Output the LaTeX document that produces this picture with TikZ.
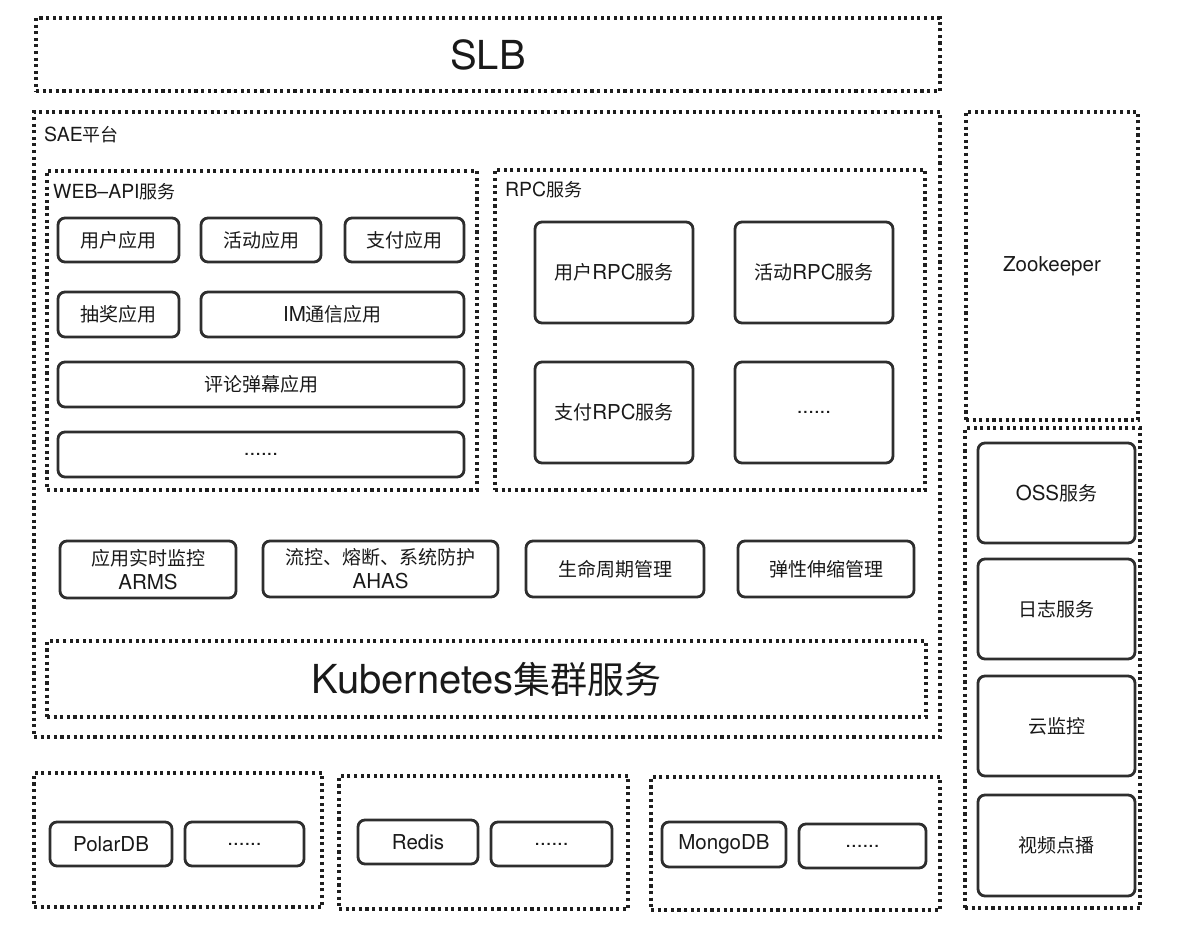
\documentclass[tikz,border=0pt]{standalone}
\usepackage{fontspec}
\setmainfont{TeX Gyre Heros}[Scale=1.08]
\newfontfamily\cjkf{Noto Sans CJK SC}
\newcommand{\zhs}[1]{{\cjkf #1}}
\begin{document}
\begin{tikzpicture}[x=1pt,y=-1pt,
  dotbox/.style={draw=black!88, line width=3.1pt, dash pattern=on 3.1pt off 3.5pt, rectangle, inner sep=0pt, outer sep=0pt},
  app/.style={draw=black!82, line width=2.8pt, rounded corners=7pt, rectangle, inner sep=0pt, outer sep=0pt, align=center, text=black!90, font=\fontsize{19}{22}\selectfont},
  lbl/.style={anchor=west, inner sep=0pt, text=black!90, font=\fontsize{18}{20}\selectfont},
  big/.style={text=black!90, font=\fontsize{37}{40}\selectfont}
]
\useasboundingbox (0,0) rectangle (1194,936);
% SLB
\node[dotbox, minimum width=904pt, minimum height=73pt] (slb) at (488,54.5) {};
\node[big] (slbt) at (slb.center) {SLB};
% SAE
\node[dotbox, minimum width=906pt, minimum height=625pt] (sae) at (487,424.5) {};
\node[lbl] (saet) at (44,135) {SAE\zhs{平台}};
% WEB-API
\node[dotbox, minimum width=430pt, minimum height=319pt] (web) at (262,330.5) {};
\node[lbl] (webt) at (53,192) {WEB--API\zhs{服务}};
\node[app, minimum width=121pt, minimum height=44pt] (a1) at (118.5,240) {\zhs{用户应用}};
\node[app, minimum width=120pt, minimum height=44pt] (a2) at (261,240) {\zhs{活动应用}};
\node[app, minimum width=119pt, minimum height=44pt] (a3) at (404.5,240) {\zhs{支付应用}};
\node[app, minimum width=121pt, minimum height=45pt] (a4) at (118.5,314.5) {\zhs{抽奖应用}};
\node[app, minimum width=263pt, minimum height=45pt] (a5) at (332.5,314.5) {IM\zhs{通信应用}};
\node[app, minimum width=406pt, minimum height=45pt] (a6) at (261,384.5) {\zhs{评论弹幕应用}};
\node[app, minimum width=406pt, minimum height=45pt] (a7) at (261,454.5) {......};
% RPC
\node[dotbox, minimum width=430pt, minimum height=320pt] (rpc) at (710,330) {};
\node[lbl] (rpct) at (505,190) {RPC\zhs{服务}};
\node[app, minimum width=158pt, minimum height=101pt] (r1) at (614,272.5) {\zhs{用户}RPC\zhs{服务}};
\node[app, minimum width=158pt, minimum height=101pt] (r2) at (814,272.5) {\zhs{活动}RPC\zhs{服务}};
\node[app, minimum width=158pt, minimum height=101pt] (r3) at (614,412.5) {\zhs{支付}RPC\zhs{服务}};
\node[app, minimum width=158pt, minimum height=101pt] (r4) at (814,412.5) {......};
% middle row
\node[app, minimum width=176pt, minimum height=57pt, font=\fontsize{19}{24}\selectfont] (m1) at (148,569.5) {\zhs{应用实时监控}\\ARMS};
\node[app, minimum width=235pt, minimum height=56pt, font=\fontsize{19}{24}\selectfont] (m2) at (380.5,569) {\zhs{流控、熔断、系统防护}\\AHAS};
\node[app, minimum width=178pt, minimum height=56pt] (m3) at (615,569) {\zhs{生命周期管理}};
\node[app, minimum width=176pt, minimum height=56pt] (m4) at (826,569) {\zhs{弹性伸缩管理}};
% Kubernetes
\node[dotbox, minimum width=879pt, minimum height=76pt] (k8s) at (486.5,679) {};
\node[big] (k8st) at (k8s.center) {Kubernetes\zhs{集群服务}};
% Zookeeper
\node[dotbox, minimum width=172pt, minimum height=308pt] (zk) at (1052,266) {};
\node[inner sep=0pt, text=black!90, font=\fontsize{19}{20}\selectfont] (zkt) at (zk.center) {Zookeeper};
% right group
\node[dotbox, minimum width=175pt, minimum height=480pt] (rg) at (1052.5,668) {};
\node[app, minimum width=157pt, minimum height=100pt] (s1) at (1056.5,493) {OSS\zhs{服务}};
\node[app, minimum width=157pt, minimum height=100pt] (s2) at (1056.5,609) {\zhs{日志服务}};
\node[app, minimum width=157pt, minimum height=100pt] (s3) at (1056.5,726) {\zhs{云监控}};
\node[app, minimum width=157pt, minimum height=101pt] (s4) at (1056.5,845.5) {\zhs{视频点播}};
% DB groups
\node[dotbox, minimum width=288pt, minimum height=134pt] (d1) at (178,840) {};
\node[app, minimum width=122pt, minimum height=44pt] (p1) at (111,844) {PolarDB};
\node[app, minimum width=119pt, minimum height=44pt] (p2) at (244.5,844) {......};
\node[dotbox, minimum width=289pt, minimum height=133pt] (d2) at (483.5,842.5) {};
\node[app, minimum width=120pt, minimum height=44pt] (q1) at (418,842) {Redis};
\node[app, minimum width=121pt, minimum height=44pt] (q2) at (551.5,844) {......};
\node[dotbox, minimum width=289pt, minimum height=133pt] (d3) at (795.5,843.5) {};
\node[app, minimum width=124pt, minimum height=45pt] (g1) at (724,844.5) {MongoDB};
\node[app, minimum width=127pt, minimum height=44pt] (g2) at (862.5,846) {......};
\end{tikzpicture}
\end{document}
